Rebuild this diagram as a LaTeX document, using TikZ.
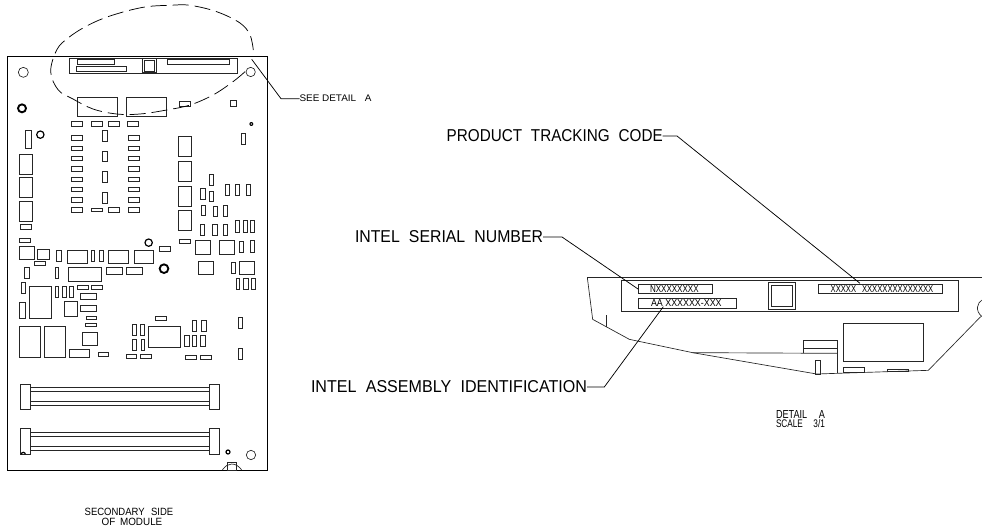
\documentclass[tikz,border=0pt]{standalone}
\usepackage{graphicx}
\usepackage{fontspec}
\setmainfont{Liberation Sans}
\newcommand{\partboxes}[1]{\foreach \xa/\ya/\xb/\yb in {#1}{\draw[part] (\xa,\ya) rectangle (\xb,\yb);}}
\newcommand{\fitted}[3]{\resizebox{#1}{#2}{#3}}
\tikzset{
  part/.style={line width=.5pt,draw=black!85},
  heavy/.style={line width=1.4pt,draw=black},
  leader/.style={line width=.55pt,draw=black},
  label/.style={inner sep=0pt,outer sep=0pt,anchor=west,text=black},
  zoomA/.style={x=.25pt,y=-.25pt,shift={(0pt,-7.5pt)}},
  zoomB/.style={x=.25pt,y=-.25pt,shift={(0pt,-165pt)}},
  zoomC/.style={x=.25pt,y=-.25pt,shift={(427.5pt,-195pt)}},
}
\begin{document}
\begin{tikzpicture}[x=.75pt,y=-.75pt]
\useasboundingbox (0,0) rectangle (982,531);
% board
\draw[line width=.6pt] (7.7,56.7) rectangle (267,470);
\begin{scope}[zoomA]
\partboxes{207/145/712/190,231/149/343/163,230/170/380/185,503/149/689/163,
232/262/353/320,379/262/498/320,538/274/572/288,691/271/709/289,
214/334/247/349,274/334/307/349,325/334/357/349,382/334/416/349,
214/377/247/390,214/408/247/421,214/439/247/452,214/470/247/483,214/501/247/514,214/532/247/545,214/563/247/576,214/592/247/606,
386/377/418/390,386/408/418/421,386/439/418/452,386/470/418/483,386/501/418/514,386/532/418/545,386/563/418/576,386/592/418/606,
308/361/323/394,308/424/323/455,308/485/323/517,308/548/323/581,274/594/307/604,325/592/357/606,
77/362/95/415,58/433/96/493,58/503/96/563,58/573/96/633,61/643/93/657,
535/380/575/440,535/454/575/514,535/529/575/588,535/602/575/660,723/369/737/403,
628/493/639/527,602/536/616/567,628/543/641/575,677/524/689/556,706/524/717/556,738/524/750/556,605/585/616/616,641/588/651/618,671/586/682/618,
428/146/468/188,434/151/462/183}
\draw[part] (70,187) circle[radius=15];
\draw[part] (752,186) circle[radius=14];
\draw[heavy] (66,295) circle[radius=12];
\draw[line width=.9pt] (121,374) circle[radius=11];
\fill (754,342) circle[radius=6];
\fill[white] (754,342) circle[radius=2];
\end{scope}
\begin{scope}[zoomB]
\partboxes{601/14/613/46,637/14/652/46,670/14/682/46,705/2/717/36,730/2/742/36,752/2/763/36,
58/55/92/66,58/79/103/117,113/89/149/119,104/125/137/136,169/92/184/125,202/92/261/131,273/92/284/125,297/92/309/125,325/92/385/131,403/92/461/131,479/80/512/94,538/57/572/70,586/62/632/102,658/62/704/102,719/63/730/98,751/62/763/96,
595/124/640/163,694/127/705/159,718/124/764/163,708/176/719/209,730/176/744/209,755/176/767/209,
73/143/89/176,166/143/176/176,205/142/305/184,319/142/368/162,379/142/428/162,
64/187/77/220,88/199/155/295,166/199/176/233,187/199/199/233,209/199/220/233,232/195/264/209,275/195/308/209,242/220/289/239,192/243/232/288,242/256/289/275,258/289/289/299,256/310/290/320,58/246/76/295,58/320/121/412,132/320/195/412,247/337/293/376,207/388/267/412,294/397/326/410,396/314/410/346,421/314/434/346,396/358/410/391,423/358/434/391,378/402/410/415,421/402/453/415,446/320/542/381,467/289/499/301,577/302/590/335,604/302/618/335,553/345/567/379,577/345/589/379,601/345/615/379,557/405/590/418,601/405/634/418,715/293/728/326,715/386/728/419,
61/492/91/568,629/492/659/568,91/503/629/556,91/515/629/545,
61/626/91/703,629/626/659/703,91/638/629/691,91/650/629/680}
\draw[line width=.9pt] (446,68) circle[radius=11];
\draw[heavy] (492,146) circle[radius=13];
\draw[line width=.9pt] (684,696) circle[radius=6];
\draw[part] (753,705) circle[radius=14];
\draw[line width=.9pt] (64,703) arc[start angle=180,end angle=360,radius=6];
\draw[part] (681,727) rectangle (709,750);
\draw[part] (667,750) .. controls (676,738) and (684,732) .. (695,732) .. controls (708,732) and (718,740) .. (725,750);
\end{scope}
% dashed detail outline
\draw[line width=.55pt,dash pattern=on 12pt off 4.5pt] plot[smooth,tension=.6] coordinates {(245,71.7) (233,81.7) (213,95) (190,105) (166.7,110) (140,114) (116.7,114) (93,109) (73,99) (58.3,90) (50.7,71.7) (56.7,50) (68,38) (86.7,26) (110,16) (143,7.3) (170,5.3) (190,5.3) (216.7,11.7) (240,23) (250,35) (253.3,50)};
% see detail
\node[label] (seedetail) at (299.5,98.7) {\fitted{54pt}{5pt}{SEE DETAIL\hspace{.6em} A}};
\coordinate (seetip) at (251.7,59.3);
\draw[leader] (seetip) -- (281,98.7) -- (seedetail.west);
% detail A
\begin{scope}[zoomC]
\draw[part] (52,53) -- (1236,53);
\draw[part] (52,53) -- (68,178) -- (178,238) -- (368,278) -- (740,342) -- (1075,331) -- (1232,170);
\draw[part] (1236,120) .. controls (1222,128) and (1214,152) .. (1236,170);
\draw[part] (108,165) -- (108,200);
\partboxes{154/62/1166/154,204/72/426/100,204/116/500/144,746/72/1118/100,595/67/677/149,604/76/668/140,821/190/1060/304,736/300/752/342,820/322/884/338,952/328/1016/335}
\draw[part] (700,280) -- (700,242) -- (802,242) -- (802,340);
\draw[part] (700,266) -- (802,266);
\draw[part] (368,278) -- (802,280);
\node[inner sep=0pt] (serialtext) at (313,86) {\fitted{36.5pt}{5.2pt}{NXXXXXXXX}};
\node[inner sep=0pt] (assytext) at (349,130) {\fitted{53pt}{5.2pt}{AA XXXXXX-XXX}};
\node[inner sep=0pt] (tracktext) at (936,86) {\fitted{77pt}{5.2pt}{XXXXX\hspace{.5em} XXXXXXXXXXXXXX}};
\node[label] (detaila) at (618,462) {\fitted{36.7pt}{6pt}{DETAIL\hspace{1em} A}};
\node[label] (scale) at (618,492) {\fitted{36.7pt}{6pt}{SCALE\hspace{1em} 3/1}};
\coordinate (tracktip) at (870,70);
\coordinate (serialtip) at (204,87);
\coordinate (assytip) at (280,140);
\end{scope}
% callouts
\node[label] (track) at (446.7,136) {\fitted{162pt}{9pt}{PRODUCT\hspace{.3em} TRACKING\hspace{.3em} CODE}};
\node[label] (serial) at (355,237) {\fitted{141pt}{9pt}{INTEL\hspace{.3em} SERIAL\hspace{.3em} NUMBER}};
\node[label] (assy) at (311,387) {\fitted{207pt}{9pt}{INTEL\hspace{.3em} ASSEMBLY\hspace{.3em} IDENTIFICATION}};
\draw[leader] (track.east) -- (677,136) -- (tracktip);
\draw[leader] (serial.east) -- (562,237) -- (serialtip);
\draw[leader] (assy.east) -- (604.3,387) -- (assytip);
\begin{scope}[zoomB]
\node[inner sep=0pt] (secondary) at (387,875) {\fitted{66.5pt}{5.5pt}{SECONDARY\hspace{.4em} SIDE}};
\node[inner sep=0pt] (ofmodule) at (396,906) {\fitted{45.5pt}{5.5pt}{OF\hspace{.2em} MODULE}};
\end{scope}
\end{tikzpicture}
\end{document}
